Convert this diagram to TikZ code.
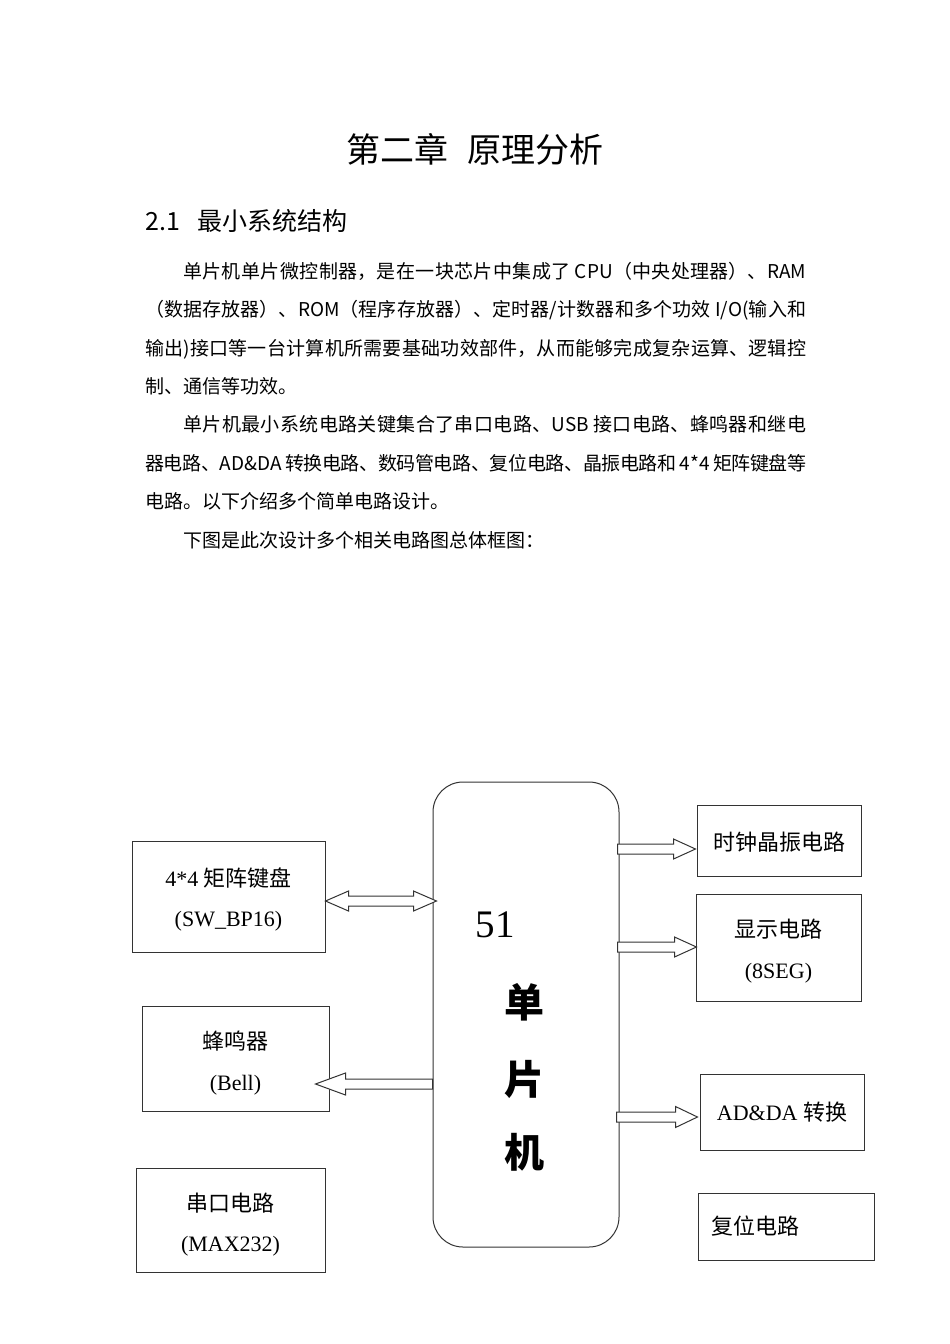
\documentclass[tikz,border=0pt]{standalone}
\usepackage{fontspec}
\setmainfont{Liberation Serif}
\newfontfamily\cjk{Noto Sans CJK SC}
\usetikzlibrary{calc}
\tikzset{
  box/.style={draw=black!80, line width=1pt, rectangle, inner sep=0pt, align=center,
    font=\fontsize{22}{40.5}\selectfont},
  arrline/.style={draw=black!80, line width=1pt, fill=white, line join=miter},
  chipchar/.style={font=\cjk\bfseries\fontsize{40}{40}\selectfont, inner sep=0pt},
}
\newcommand\blockarr[4]{%
  \draw[arrline] let \p1=(#1), \p2=(#2), \p3=($(#2)!#3pt!(#1)$) in
    (\x1,\y1+5pt) -- (\x3,\y1+5pt) -- (\x3,\y1+#4pt) -- (\x2,\y2) --
    (\x3,\y1-#4pt) -- (\x3,\y1-5pt) -- (\x1,\y1-5pt) -- cycle;}
\newcommand\dblarr[4]{%
  \draw[arrline] let \p1=(#1), \p2=(#2), \p3=($(#1)!#3pt!(#2)$), \p4=($(#2)!#3pt!(#1)$) in
    (\x1,\y1) -- (\x3,\y1+#4pt) -- (\x3,\y1+5pt) -- (\x4,\y1+5pt) -- (\x4,\y1+#4pt) --
    (\x2,\y2) -- (\x4,\y1-#4pt) -- (\x4,\y1-5pt) -- (\x3,\y1-5pt) -- (\x3,\y1-#4pt) -- cycle;}
\newcommand\tstrut[1]{\rule{0pt}{#1pt}}
\begin{document}
\begin{tikzpicture}[x=1pt,y=-1pt]
\fill[white] (0,0) rectangle (950,1344);
\useasboundingbox (0,0) rectangle (950,1344);

% headings
\node[font=\cjk\fontsize{34}{34}\selectfont, inner sep=0pt] (title) at (475,149)
  {第二章\hspace{20pt}原理分析};
\node[font=\cjk\fontsize{25}{25}\selectfont, inner sep=0pt, anchor=west] (sec) at (145,221)
  {2.1\hspace{18pt}最小系统结构};

% paragraphs
\node[anchor=base west, inner sep=0pt, text width=661, align=justify,
      font=\cjk\fontsize{19}{38.4}\selectfont] (para) at (145,278.2)
{\XeTeXlinebreaklocale "zh"\XeTeXlinebreakskip=0pt plus 3pt minus 0.8pt%
\hspace*{38pt}单片机单片微控制器，是在一块芯片中集成了 CPU（中央处理器）、RAM\linebreak
（数据存放器）、ROM（程序存放器）、定时器/计数器和多个功效 I/O(输入和\linebreak
输出)接口等一台计算机所需要基础功效部件，从而能够完成复杂运算、逻辑控\linebreak
制、通信等功效。\par
\hspace*{38pt}单片机最小系统电路关键集合了串口电路、USB 接口电路、蜂鸣器和继电\linebreak
器电路、AD\&DA 转换电路、数码管电路、复位电路、晶振电路和 4*4 矩阵键盘等\linebreak
电路。以下介绍多个简单电路设计。\par
\hspace*{38pt}下图是此次设计多个相关电路图总体框图：\par};

% MCU block
\node[draw=black!80, line width=1pt, rounded corners=30, minimum width=186,
      minimum height=465, inner sep=0pt] (mcu) at (526,1014.5) {};
\node[font=\fontsize{39}{39}\selectfont, inner sep=0pt] (n51) at (495,925) {51};
\node[chipchar] (ch1) at (524,1002) {单};
\node[chipchar] (ch2) at (524,1079) {片};
\node[chipchar] (ch3) at (524,1152) {机};

% left boxes
\node[box, minimum width=193, minimum height=111] (kbd) at (228.5,896.5)
  {\tstrut{25}4*4 {\cjk 矩阵键盘}\\(SW\_BP16)};
\node[box, minimum width=187, minimum height=105] (bell) at (235.5,1058.5)
  {\tstrut{28}{\cjk 蜂鸣器}\\(Bell)};
\node[box, minimum width=189, minimum height=104] (uart) at (230.5,1220)
  {\tstrut{28}{\cjk 串口电路}\\(MAX232)};

% right boxes
\node[box, minimum width=164, minimum height=71] (clk) at (779,840.5)
  {\tstrut{22}{\cjk 时钟晶振电路}};
\node[box, minimum width=165, minimum height=107] (disp) at (778.5,947.5)
  {\tstrut{26}{\cjk 显示电路}\\(8SEG)};
\node[box, minimum width=164, minimum height=76] (adda) at (782,1112)
  {AD\&DA {\cjk 转换}};
\node[box, minimum width=176, minimum height=67, text width=150, inner xsep=13pt,
      align=left] (rst) at (786,1226.5) {{\cjk 复位电路}};

% connector end points
\coordinate (k1) at (kbd.east |- 0,901);
\coordinate (k2) at ([xshift=4pt]mcu.west |- 0,901);
\coordinate (a1) at ([xshift=-2pt]mcu.east |- 0,849);
\coordinate (a1t) at ([xshift=-1pt]clk.west |- a1);
\coordinate (a2) at ([xshift=-2pt]mcu.east |- 0,947);
\coordinate (a2t) at ([xshift=1pt]disp.west |- a2);
\coordinate (a3) at ([xshift=-3pt]mcu.east |- 0,1117);
\coordinate (a3t) at ([xshift=-2pt]adda.west |- a3);
\coordinate (b1) at (mcu.west |- 0,1084);
\coordinate (b1t) at ([xshift=-14pt]bell.east |- b1);

% connectors
\dblarr{k1}{k2}{23}{10}
\blockarr{a1}{a1t}{22}{10}
\blockarr{a2}{a2t}{22}{10}
\blockarr{a3}{a3t}{22}{10.5}
\blockarr{b1}{b1t}{30}{11}
\end{tikzpicture}
\end{document}
